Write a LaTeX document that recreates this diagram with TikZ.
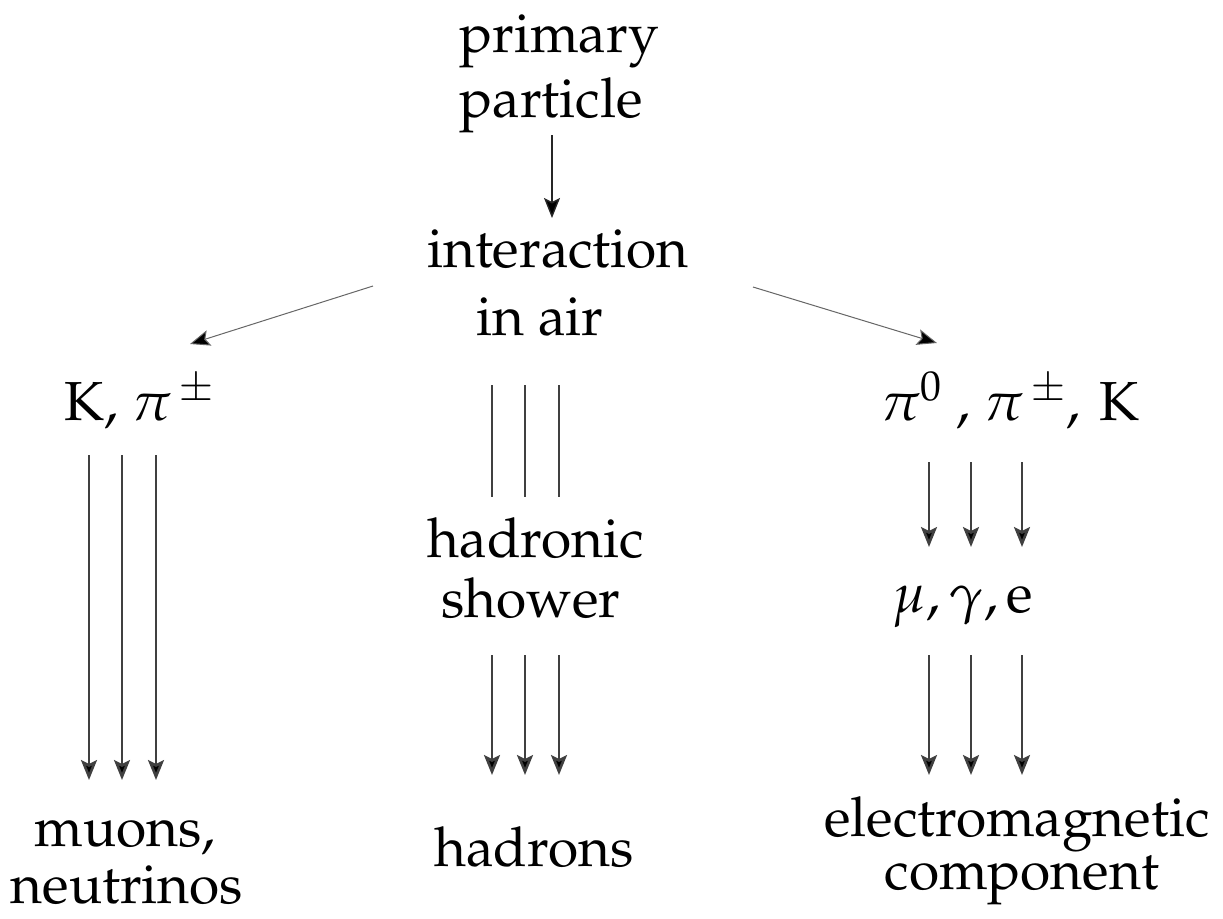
\documentclass[tikz,border=0pt]{standalone}
\usepackage[T1]{fontenc}
\usepackage{mathpazo}
\usetikzlibrary{arrows.meta}
\begin{document}
\begin{tikzpicture}[x=0.5pt,y=-0.5pt,
  lbl/.style={inner sep=0pt, anchor=base, font=\fontsize{27.5}{30}\selectfont},
  ray/.style={line width=1.3pt, draw=black!75, -{Stealth[length=10pt,width=8pt,inset=2pt,fill=black]}},
  bar/.style={line width=1.3pt, draw=black!75},
  thin/.style={line width=0.5pt, draw=black!60, -{Stealth[length=10pt,width=8pt,inset=2pt,fill=black]}}]
\useasboundingbox (0,0) rectangle (1223,918);
% labels
\node[lbl] (primary) at (559,52) {primary};
\node[lbl] (particle) at (551,117) {particle};
\node[lbl] (interaction) at (558,267) {interaction};
\node[lbl] (inair) at (540,335) {in air};
\node[lbl] (kpi) at (140,420) {K, $\pi^{\,\pm}$};
\node[lbl] (pik) at (1010,420) {$\pi^0$ , $\pi^{\,\pm}$,\hspace{0.35em}K};
\node[lbl] (hadronic) at (536,557) {hadronic};
\node[lbl] (shower) at (531,617) {shower};
\node[lbl] (mge) at (963,612) {$\mu$,\,$\gamma$,\,e};
\node[lbl] (muons) at (125,846) {muons,};
\node[lbl] (neutrinos) at (127,903) {neutrinos};
\node[lbl] (hadrons) at (534,866) {hadrons};
\node[lbl] (electro) at (1017,836) {electromagnetic};
\node[lbl] (component) at (1022,889) {component};
% connector end points
\coordinate (a0s) at (552,135); \coordinate (a0e) at (552,218);
\coordinate (dls) at (373,286); \coordinate (dle) at (190,344);
\coordinate (drs) at (753,287); \coordinate (dre) at (937,343);
\draw[thin, line width=0.7pt, draw=black!85] (a0s) -- (a0e);
\draw[thin] (dls) -- (dle);
\draw[thin] (drs) -- (dre);
% left column
\foreach \x [count=\i] in {89,122,156} {
  \coordinate (ls\i) at (\x,455); \coordinate (le\i) at (\x,780);
  \draw[ray] (ls\i) -- (le\i);
}
% middle column
\foreach \x [count=\i] in {492,525,559} {
  \coordinate (ms\i) at (\x,385); \coordinate (me\i) at (\x,497);
  \draw[bar] (ms\i) -- (me\i);
  \coordinate (ns\i) at (\x,655); \coordinate (ne\i) at (\x,775);
  \draw[ray] (ns\i) -- (ne\i);
}
% right column
\foreach \x [count=\i] in {929,971,1022} {
  \coordinate (rs\i) at (\x,462); \coordinate (re\i) at (\x,547);
  \draw[ray] (rs\i) -- (re\i);
  \coordinate (ts\i) at (\x,655); \coordinate (te\i) at (\x,775);
  \draw[ray] (ts\i) -- (te\i);
}
\end{tikzpicture}
\end{document}
